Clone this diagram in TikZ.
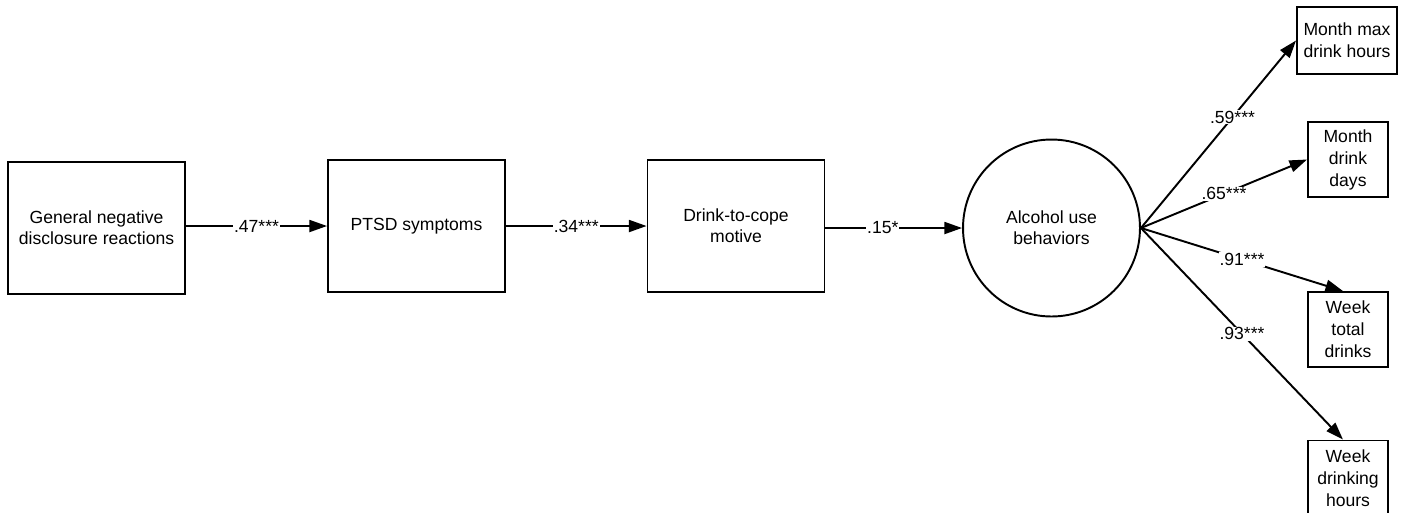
\documentclass[tikz,border=0pt]{standalone}
\usepackage{fontspec}
\setmainfont{Liberation Sans}
\usepackage{tikz}
\usetikzlibrary{shapes,arrows.meta,positioning,calc}

\begin{document}
\begin{tikzpicture}[
    x=0.02cm, y=-0.02cm,
    box/.style={rectangle, draw, line width=1.1pt, align=center, font=\fontsize{10}{12}\selectfont, minimum width=3.54cm, minimum height=2.64cm, inner sep=2pt},
    latent/.style={circle, draw, line width=1.1pt, align=center, font=\fontsize{10}{12}\selectfont, minimum size=3.54cm, inner sep=0pt},
    indic/.style={rectangle, draw, line width=1.1pt, align=center, font=\fontsize{10}{12.5}\selectfont, minimum width=1.6cm, minimum height=1.5cm, inner sep=1pt},
    arrow/.style={-{Triangle[length=10pt, width=6.8pt]}, line width=1.1pt},
    coef/.style={fill=white, inner sep=0.5pt, font=\fontsize{10}{12}\selectfont}
]
    % fixed page size
    \useasboundingbox (0,0) rectangle (1406,512);

    % === Path model (left to right) ===
    \node[box] (gnd) at (96.5,228) {General negative\\disclosure reactions};
    \node[box] (ptsd) at (416.5,226) {PTSD symptoms};
    \node[box] (cope) at (736,226) {Drink-to-cope\\motive};
    \node[latent] (alc) at (1051.5,228) {Alcohol use\\behaviors};

    % === Indicators of the latent factor ===
    \node[indic, minimum width=2cm, minimum height=1.34cm] (mmax) at (1347,40.5) {Month max\\drink hours};
    \node[indic] (mdays) at (1348,159.5) {Month\\drink\\days};
    \node[indic] (wtot) at (1348,329.5) {Week\\total\\drinks};
    \node[indic] (whrs) at (1348,478) {Week\\drinking\\hours};

    % === Structural paths ===
    \draw[arrow] (gnd.east |- ptsd.west) -- node[coef] {.47***} (ptsd.west);
    \draw[arrow] (ptsd.east) -- node[coef] {.34***} (cope.west);
    \draw[arrow] (cope.east |- alc.west) -- node[coef, pos=0.42] {.15*} (alc.west);

    % === Loadings ===
    \draw[arrow] (alc.east) -- node[coef, pos=0.59] {.59***} (mmax.west);
    \draw[arrow] (alc.east) -- node[coef] {.65***} (mdays.west);
    \draw[arrow] (alc.east) -- node[coef] {.91***} ([xshift=-0.1cm]wtot.north);
    \draw[arrow] (alc.east) -- node[coef] {.93***} ([xshift=-0.1cm]whrs.north);
\end{tikzpicture}
\end{document}
